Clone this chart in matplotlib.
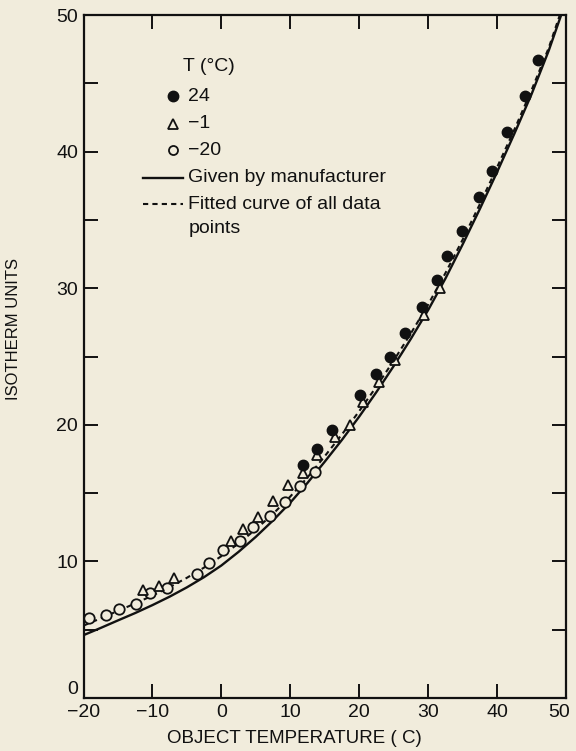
import numpy as np
import matplotlib.pyplot as plt
import matplotlib.transforms as mtransforms

plt.rcParams['font.family'] = ['Liberation Sans', 'DejaVu Sans']

# data
# T = 24 C (filled circles)
x_24 = [11.9, 13.85, 16.0, 20.1, 22.45, 24.4, 26.7, 29.1, 31.35, 32.7,
        34.9, 37.45, 39.25, 41.5, 44.1, 45.9]
y_24 = [17.05, 18.2, 19.65, 22.2, 23.75, 25.0, 26.7, 28.6, 30.6, 32.35,
        34.2, 36.7, 38.6, 41.45, 44.1, 46.7]

# T = -1 C (open triangles)
x_m1 = [-11.4, -9.0, -6.9, 1.35, 3.1, 5.35, 7.55, 9.7, 11.9, 13.85,
        16.5, 18.6, 20.5, 22.9, 25.2, 29.4, 31.75]
y_m1 = [7.9, 8.2, 8.75, 11.5, 12.35, 13.25, 14.45, 15.6, 16.5, 17.8,
        19.1, 20.0, 21.65, 23.15, 24.75, 28.05, 30.0]

# T = -20 C (open circles)
x_m20 = [-19.15, -16.8, -14.8, -12.35, -10.3, -7.9, -3.5, -1.75, 0.3,
         2.7, 4.55, 7.05, 9.25, 11.45, 13.6]
y_m20 = [5.85, 6.1, 6.5, 6.9, 7.7, 8.05, 9.1, 9.9, 10.8,
         11.5, 12.5, 13.3, 14.35, 15.55, 16.55]

# curves
x_man = [-20, -17.5, -15, -12.5, -10, -7.5, -5, -2.5, 0, 2.5, 5, 7.5, 10,
         12.5, 15, 17.5, 20, 22.5, 25, 27.5, 30, 32.5, 35, 37.5, 40, 42.5,
         45, 47.5, 49.3]
y_man = [4.6, 5.13, 5.68, 6.22, 6.8, 7.42, 8.1, 8.85, 9.7, 10.7, 11.8, 13.0,
         14.3, 15.75, 17.3, 18.9, 20.6, 22.4, 24.3, 26.3, 28.4, 30.7, 33.2,
         35.8, 38.5, 41.3, 44.2, 47.4, 50.0]
x_fit = [-20, -17.5, -15, -12.5, -10, -7.5, -5, -2.5, 0, 2.5, 5, 7.5, 10,
         12.5, 15, 17.5, 20, 22.5, 25, 27.5, 30, 32.5, 35, 37.5, 40, 42.5,
         45, 47.5, 49.1]
y_fit = [5.3, 5.83, 6.38, 6.92, 7.5, 8.12, 8.8, 9.55, 10.38, 11.32, 12.35,
         13.48, 14.75, 16.15, 17.7, 19.3, 21.0, 22.8, 24.7, 26.7, 28.8, 31.1,
         33.55, 36.15, 38.85, 41.6, 44.5, 47.6, 50.0]

bg = '#f1ecdc'
ink = '#111111'

fig = plt.figure(figsize=(5.76, 7.51), dpi=100, facecolor=bg)
ax = fig.add_axes([83.5/576, 53/751, 482.5/576, 683/751])
ax.set_facecolor(bg)

ax.plot(x_man, y_man, color=ink, lw=1.7, zorder=2)
ax.plot(x_fit, y_fit, color=ink, lw=1.5, dashes=(2.5, 2), zorder=2)

ax.plot(x_m20, y_m20, 'o', ms=7.5, mfc=bg, mec=ink, mew=1.3, zorder=3)
ax.plot(x_m1, y_m1, '^', ms=7.5, mfc=bg, mec=ink, mew=1.3, zorder=4)
ax.plot(x_24, y_24, 'o', ms=7.5, mfc=ink, mec=ink, zorder=5)

ax.set_xlim(-20, 50)
ax.set_ylim(0, 50)
ax.set_xticks(np.arange(-20, 51, 10))
ax.set_yticks(np.arange(0, 51, 10))
ax.set_yticks(np.arange(5, 50, 10), minor=True)
ax.tick_params(axis='both', which='both', direction='in', length=10,
               width=1.4, top=True, right=True, labelsize=14, pad=4,
               colors=ink)
for s in ax.spines.values():
    s.set_linewidth(1.6)
    s.set_color(ink)

# nudge the corner labels like in the original
ylabs = ax.get_yticklabels()
ylabs[0].set_va('bottom')
xlabs = ax.get_xticklabels()
xlabs[-1].set_transform(xlabs[-1].get_transform() +
                        mtransforms.ScaledTranslation(-7/100, 0, fig.dpi_scale_trans))

ax.set_xlabel('OBJECT TEMPERATURE ( C)', fontsize=13.5, color=ink)
ax.xaxis.set_label_coords(0.437, -0.047)
ax.set_ylabel('ISOTHERM UNITS', fontsize=12, color=ink)
ax.yaxis.set_label_coords(-0.13, 0.54)

# legend drawn by hand
tx = 0.217
mx = 0.186
fs = 14
ax.text(tx - 0.01, 0.925, 'T (°C)', transform=ax.transAxes, fontsize=fs,
        va='center', color=ink)
ax.plot([mx], [0.881], 'o', ms=7.5, mfc=ink, mec=ink, transform=ax.transAxes)
ax.text(tx, 0.881, '24', transform=ax.transAxes, fontsize=fs, va='center', color=ink)
ax.plot([mx], [0.841], '^', ms=6.5, mfc=bg, mec=ink, mew=1.3, transform=ax.transAxes)
ax.text(tx, 0.841, '\u22121', transform=ax.transAxes, fontsize=fs, va='center', color=ink)
ax.plot([mx], [0.802], 'o', ms=6.5, mfc=bg, mec=ink, mew=1.3, transform=ax.transAxes)
ax.text(tx, 0.802, '\u221220', transform=ax.transAxes, fontsize=fs, va='center', color=ink)
ax.plot([0.123, 0.207], [0.762, 0.762], color=ink, lw=1.7, transform=ax.transAxes)
ax.text(tx, 0.762, 'Given by manufacturer', transform=ax.transAxes, fontsize=fs,
        va='center', color=ink)
ax.plot([0.123, 0.207], [0.723, 0.723], color=ink, lw=1.5, dashes=(2.5, 2),
        transform=ax.transAxes)
ax.text(tx, 0.723, 'Fitted curve of all data', transform=ax.transAxes, fontsize=fs,
        va='center', color=ink)
ax.text(tx, 0.688, 'points', transform=ax.transAxes, fontsize=fs,
        va='center', color=ink)

fig.savefig('out.png', dpi=100, facecolor=bg)
